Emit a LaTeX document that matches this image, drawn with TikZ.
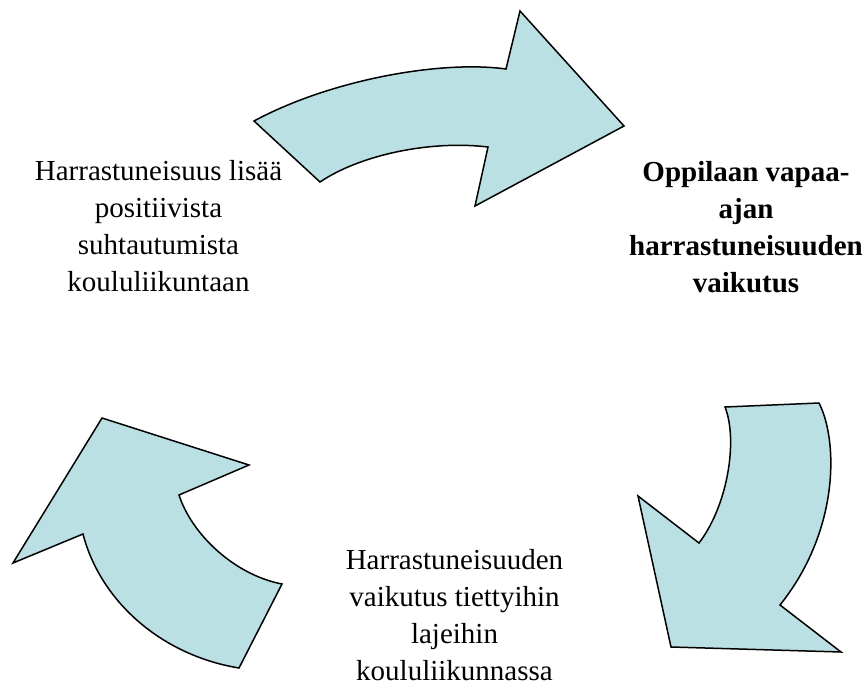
\documentclass[tikz,border=0pt]{standalone}
\usepackage{fontspec}
\setmainfont{Liberation Serif}
\definecolor{arrowfill}{RGB}{187,224,227}
\tikzset{
  bentarrow/.style={fill=arrowfill, draw=black, line width=1.5pt, line join=miter},
  label/.style={align=center, anchor=base, inner sep=0pt,
    font=\fontsize{29pt}{37pt}\selectfont}
}
\begin{document}
\begin{tikzpicture}[x=1pt, y=-1pt]
  \useasboundingbox (0,0) rectangle (865,685);

  % upper arrow, pointing right
  \draw[bentarrow] (254,121) -- (320,182)
    .. controls (360,155) and (430,140) .. (488,147)
    -- (475,206) -- (624,126) -- (520,11) -- (506,69)
    .. controls (440,60) and (330,80) .. (254,121) -- cycle;

  % right arrow, bending down
  \draw[bentarrow] (725,407) -- (819,403)
    .. controls (838,440) and (840,530) .. (780,605)
    -- (841,652) -- (671,647) -- (638,496) -- (699,543)
    .. controls (728,505) and (738,440) .. (725,407) -- cycle;

  % lower left arrow, bending up
  \draw[bentarrow] (239,668) -- (282,584)
    .. controls (235,575) and (192,535) .. (179,495)
    -- (249,465) -- (102,418) -- (13,563) -- (83,534)
    .. controls (100,600) and (160,655) .. (239,668) -- cycle;

  % labels, placed by the baseline of their last line
  \node[label] (left) at (158.5,291)
    {Harrastuneisuus lisää\\positiivista\\suhtautumista\\koululiikuntaan};
  \node[label, font=\fontsize{29pt}{37pt}\selectfont\bfseries] (right) at (746,292)
    {Oppilaan vapaa-\\ajan\\harrastuneisuuden\\vaikutus};
  \node[label] (bottom) at (454.5,680)
    {Harrastuneisuuden\\vaikutus tiettyihin\\lajeihin\\koululiikunnassa};
\end{tikzpicture}
\end{document}
